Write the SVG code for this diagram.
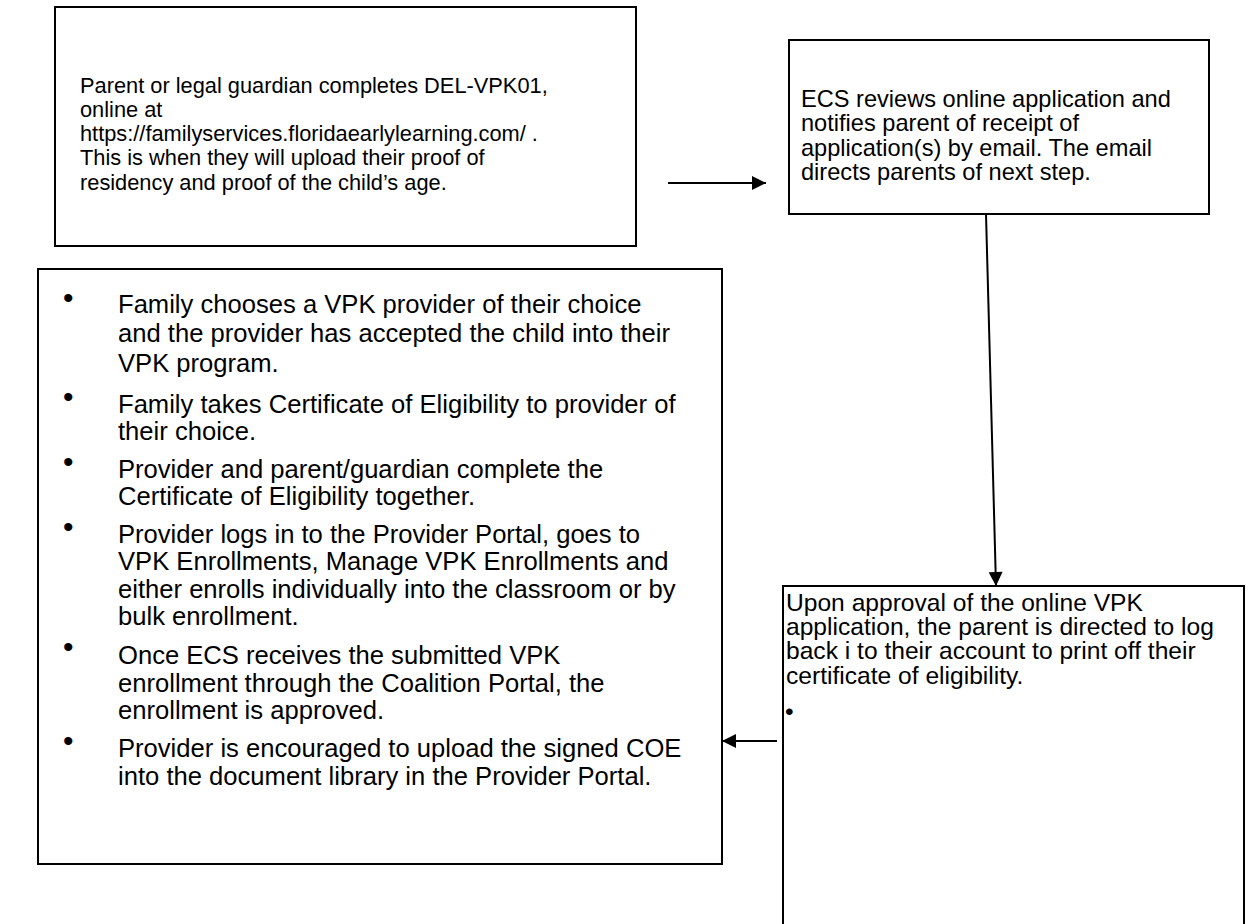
<svg xmlns="http://www.w3.org/2000/svg" width="1248" height="924" viewBox="0 0 1248 924">
<defs>
<style>
.box{fill:#fff;stroke:#000;stroke-width:2}
.t{font-family:"Liberation Sans",Arial,sans-serif;fill:#000}
.s1{font-size:21.8px}
.s2{font-size:23.6px}
.s3{font-size:24.6px}
.s4{font-size:25.6px}
.b{font-size:30px}
.con{stroke:#000;stroke-width:2;fill:none}
</style>
<marker id="ah" viewBox="0 0 10 10" refX="10" refY="5" markerWidth="15" markerHeight="14" markerUnits="userSpaceOnUse" orient="auto"><path d="M0,0 L10,5 L0,10 Z" fill="#000"/></marker>
</defs>
<rect width="1248" height="924" fill="#fff"/>
<g id="n1">
<rect class="box" x="55" y="7" width="581" height="239"/>
<text class="t s1" x="80" y="93">Parent or legal guardian completes DEL-VPK01,</text>
<text class="t s1" x="80" y="117">online at</text>
<text class="t s1" x="80" y="141">https://familyservices.floridaearlylearning.com/ .</text>
<text class="t s1" x="80" y="165">This is when they will upload their proof of</text>
<text class="t s1" x="80" y="190">residency and proof of the child’s age.</text>
</g>
<g id="n2">
<rect class="box" x="789" y="40" width="420" height="174"/>
<text class="t s2" x="801" y="107">ECS reviews online application and</text>
<text class="t s2" x="801" y="131">notifies parent of receipt of</text>
<text class="t s2" x="801" y="156">application(s) by email. The email</text>
<text class="t s2" x="801" y="180">directs parents of next step.</text>
</g>
<g id="n3">
<rect class="box" x="783" y="586" width="461" height="350"/>
<text class="t s3" x="786" y="611">Upon approval of the online VPK</text>
<text class="t s3" x="786" y="635">application, the parent is directed to log</text>
<text class="t s3" x="786" y="659">back i to their account to print off their</text>
<text class="t s3" x="786" y="684">certificate of eligibility.</text>
<text class="t s3" x="785" y="720">•</text>
</g>
<g id="n4">
<rect class="box" x="38" y="269" width="684" height="595"/>
<g class="t s4">
<text class="b" x="63" y="308">•</text>
<text x="118" y="313">Family chooses a VPK provider of their choice</text>
<text x="118" y="342">and the provider has accepted the child into their</text>
<text x="118" y="372">VPK program.</text>
<text class="b" x="63" y="407">•</text>
<text x="118" y="413">Family takes Certificate of Eligibility to provider of</text>
<text x="118" y="440">their choice.</text>
<text class="b" x="63" y="472">•</text>
<text x="118" y="478">Provider and parent/guardian complete the</text>
<text x="118" y="505">Certificate of Eligibility together.</text>
<text class="b" x="63" y="537">•</text>
<text x="118" y="543">Provider logs in to the Provider Portal, goes to</text>
<text x="118" y="570">VPK Enrollments, Manage VPK Enrollments and</text>
<text x="118" y="598">either enrolls individually into the classroom or by</text>
<text x="118" y="625">bulk enrollment.</text>
<text class="b" x="63" y="657">•</text>
<text x="118" y="664">Once ECS receives the submitted VPK</text>
<text x="118" y="692">enrollment through the Coalition Portal, the</text>
<text x="118" y="719">enrollment is approved.</text>
<text class="b" x="63" y="751">•</text>
<text x="118" y="757">Provider is encouraged to upload the signed COE</text>
<text x="118" y="785">into the document library in the Provider Portal.</text>
</g>
</g>
<g id="connectors">
<line class="con" x1="668" y1="183" x2="766" y2="183" marker-end="url(#ah)"/>
<line class="con" x1="986" y1="214" x2="996" y2="586" marker-end="url(#ah)"/>
<line class="con" x1="777" y1="741" x2="722" y2="741" marker-end="url(#ah)"/>
</g>
</svg>
